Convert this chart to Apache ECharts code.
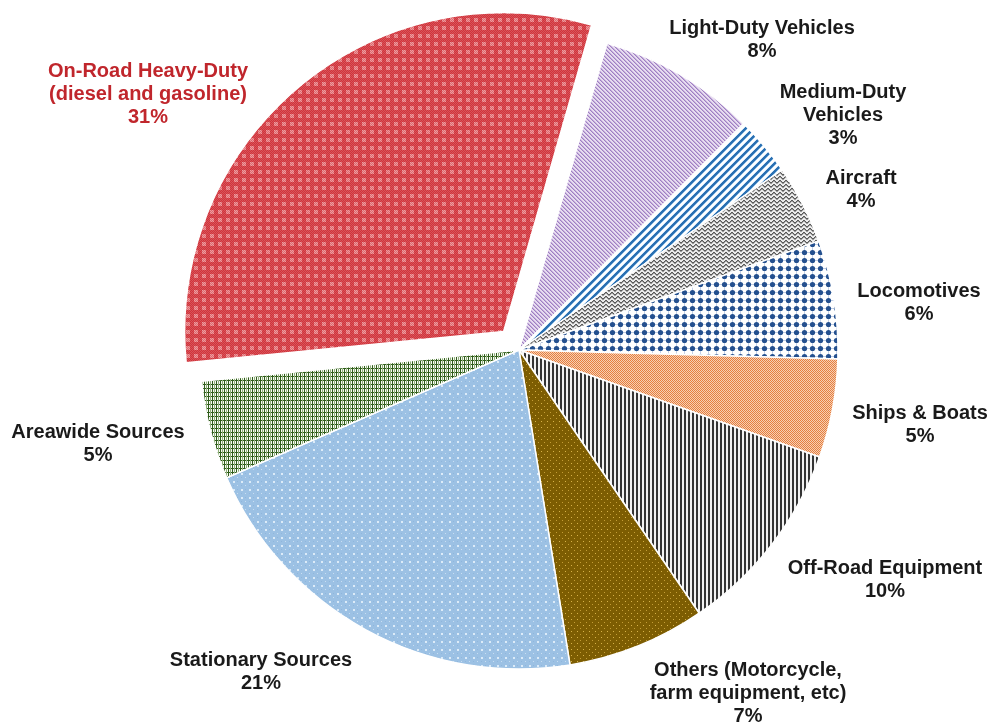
<!DOCTYPE html>
<html>
<head>
<meta charset="utf-8">
<style>
  html, body { margin: 0; padding: 0; background: #fff; }
  #chart { width: 991px; height: 728px; }
</style>
<script src="https://cdn.jsdelivr.net/npm/echarts@6/dist/echarts.min.js"></script>
</head>
<body>
<div id="chart"></div>
<script>
// Emission sources, listed clockwise from the top of the pie
const categories = [
  'Light-Duty Vehicles',
  'Medium-Duty\nVehicles',
  'Aircraft',
  'Locomotives',
  'Ships & Boats',
  'Off-Road Equipment',
  'Others (Motorcycle,\nfarm equipment, etc)',
  'Stationary Sources',
  'Areawide Sources',
  'On-Road Heavy-Duty\n(diesel and gasoline)'
];
// Share of emissions, percent
const shares = [8, 3, 4, 6, 5, 10, 7, 21, 5, 31];
// The slice pulled out of the pie (last one clockwise)
const highlightIndex = 9;

// Label anchor points (centre of each text block), in pixels
const labelAnchors = [
  [762, 40], [843, 115], [861, 190], [919, 303], [920, 425],
  [885, 580], [748, 693], [261, 672], [98, 444], [148, 94]
];

// ---- pie geometry ----
const pieCenter = [519, 350];
const pieRadius = 319;
const startAngle = 74;        // degrees, counter-clockwise from 3 o'clock
const explodeDistance = 24;   // px the highlighted slice is pulled out

// ---- fill patterns ----
function tile(w, h, draw) {
  const c = document.createElement('canvas');
  c.width = w; c.height = h;
  const ctx = c.getContext('2d');
  draw(ctx, w, h);
  return { image: c, repeat: 'repeat' };
}
function px(ctx, x, y, col, w, h) { ctx.fillStyle = col; ctx.fillRect(x, y, w || 1, h || 1); }

const patterns = [
  // light-duty: fine lavender diagonals
  tile(4, 4, (ctx) => {
    px(ctx, 0, 0, '#e7ddf0', 4, 4);
    for (let y = 0; y < 4; y++) for (let x = 0; x < 4; x++) {
      const k = ((x - y) % 4 + 4) % 4;
      if (k === 0) px(ctx, x, y, '#9f7fc2');
      else if (k === 1) px(ctx, x, y, '#c4addb');
    }
  }),
  // medium-duty: blue rising stripes
  tile(8, 8, (ctx) => {
    px(ctx, 0, 0, '#ffffff', 8, 8);
    for (let y = 0; y < 8; y++) for (let x = 0; x < 8; x++) {
      const k = (x + y) % 8;
      if (k <= 2) px(ctx, x, y, '#2a70b2');
      else if (k === 3) px(ctx, x, y, '#8fc0e8');
      else if (k === 7) px(ctx, x, y, '#cfe4f6');
    }
  }),
  // aircraft: grey zigzag
  tile(6, 4, (ctx) => {
    px(ctx, 0, 0, '#ececec', 6, 4);
    const zig = [0, 1, 2, 2, 1, 0];
    for (let x = 0; x < 6; x++) {
      px(ctx, x, zig[x], '#5a5a5a');
      px(ctx, x, (zig[x] + 1) % 4, '#9a9a9a');
    }
  }),
  // locomotives: navy dots on a faint grid
  tile(8, 8, (ctx) => {
    px(ctx, 0, 0, '#ffffff', 8, 8);
    px(ctx, 0, 4, '#c3d0e6', 8, 1);
    px(ctx, 4, 0, '#c3d0e6', 1, 8);
    ctx.fillStyle = '#24508f';
    ctx.beginPath(); ctx.arc(4.5, 4.5, 2.6, 0, Math.PI * 2); ctx.fill();
  }),
  // ships & boats: orange checker
  tile(2, 2, (ctx) => {
    px(ctx, 0, 0, '#e57f40'); px(ctx, 1, 1, '#e57f40');
    px(ctx, 1, 0, '#f7cfb3'); px(ctx, 0, 1, '#f7cfb3');
  }),
  // off-road: narrow vertical lines
  tile(4, 1, (ctx) => {
    px(ctx, 0, 0, '#343434', 2, 1);
    px(ctx, 2, 0, '#f2f2f2', 2, 1);
  }),
  // others: olive with gold dots
  tile(6, 6, (ctx) => {
    px(ctx, 0, 0, '#7d5d02', 6, 6);
    px(ctx, 1, 1, '#d7b248');
    px(ctx, 4, 4, '#c39c35');
  }),
  // stationary: light blue with pale dots
  tile(8, 8, (ctx) => {
    px(ctx, 0, 0, '#9cc1e4', 8, 8);
    px(ctx, 1, 1, '#dcebf8', 2, 2);
    px(ctx, 5, 5, '#c8def2');
    px(ctx, 5, 1, '#8fb6dc');
    px(ctx, 1, 5, '#8fb6dc');
  }),
  // areawide: dark green plaid on white
  tile(4, 4, (ctx) => {
    px(ctx, 0, 0, '#f7f9f4', 4, 4);
    px(ctx, 0, 0, '#2f5c1a', 4, 1);
    px(ctx, 0, 0, '#2f5c1a', 1, 4);
    px(ctx, 2, 0, '#8fb079', 1, 4);
  }),
  // on-road heavy-duty: red check with pale squares
  tile(8, 8, (ctx) => {
    px(ctx, 0, 0, '#d0343b', 8, 8);
    for (let y = 0; y < 8; y++) for (let x = 0; x < 8; x++) {
      const inSq = x >= 2 && x <= 5 && y >= 2 && y <= 5;
      if (inSq) px(ctx, x, y, (x + y) % 2 ? '#e06a70' : '#ec9c9f');
      else if ((x + y) % 2 === 0) px(ctx, x, y, '#d9535a');
    }
  })
];

// Direction of the highlighted slice's bisector, for pulling it out
const total = shares.reduce((a, b) => a + b, 0);
const before = shares.slice(0, highlightIndex).reduce((a, b) => a + b, 0);
const midFrac = (before + shares[highlightIndex] / 2) / total;
const midRad = (startAngle - midFrac * 360) * Math.PI / 180;
const explodedCenter = [
  pieCenter[0] + explodeDistance * Math.cos(midRad),
  pieCenter[1] - explodeDistance * Math.sin(midRad)
];

const labelBase = {
  show: true,
  position: 'outside',
  fontFamily: 'Liberation Sans, Arial, sans-serif',
  fontWeight: 'bold',
  fontSize: 20,
  lineHeight: 23,
  align: 'center',
  formatter: p => p.name + '\n' + p.value + '%'
};
// series 0 holds slices in category order; series 1 holds only the exploded one
function anchorOf(p) {
  const i = p.seriesIndex === 1 ? highlightIndex : p.dataIndex;
  return labelAnchors[i];
}
const anchorLayout = p => {
  const a = anchorOf(p);
  return { x: a[0], y: a[1], align: 'center', verticalAlign: 'middle' };
};
const hidden = { color: 'rgba(0,0,0,0)', borderWidth: 0 };

// Main pie: every slice except the highlighted one, which is left as a gap
const mainData = categories.map((name, i) => i === highlightIndex
  ? { name: '', value: shares[i], itemStyle: hidden, label: { show: false } }
  : { name: name, value: shares[i], itemStyle: { color: patterns[i] }, label: { color: '#1a1a1a' } });

// Exploded slice: drawn on its own, shifted along its bisector
const explodedData = [
  { name: '', value: before, itemStyle: hidden, label: { show: false } },
  { name: categories[highlightIndex], value: shares[highlightIndex],
    itemStyle: { color: patterns[highlightIndex] }, label: { color: '#c0262c' } }
];

const common = {
  type: 'pie',
  radius: pieRadius,
  startAngle: startAngle,
  clockwise: true,
  avoidLabelOverlap: false,
  silent: true,
  selectedMode: false,
  itemStyle: { borderColor: '#ffffff', borderWidth: 1.5 },
  emphasis: { disabled: true },
  labelLine: { show: false },
  label: labelBase,
  labelLayout: anchorLayout
};

const chart = echarts.init(document.getElementById('chart'), null, { renderer: 'canvas' });
chart.setOption({
  animation: false,
  backgroundColor: '#ffffff',
  series: [
    Object.assign({}, common, { center: pieCenter, data: mainData }),
    Object.assign({}, common, { center: explodedCenter, data: explodedData })
  ]
});
</script>
</body>
</html>
